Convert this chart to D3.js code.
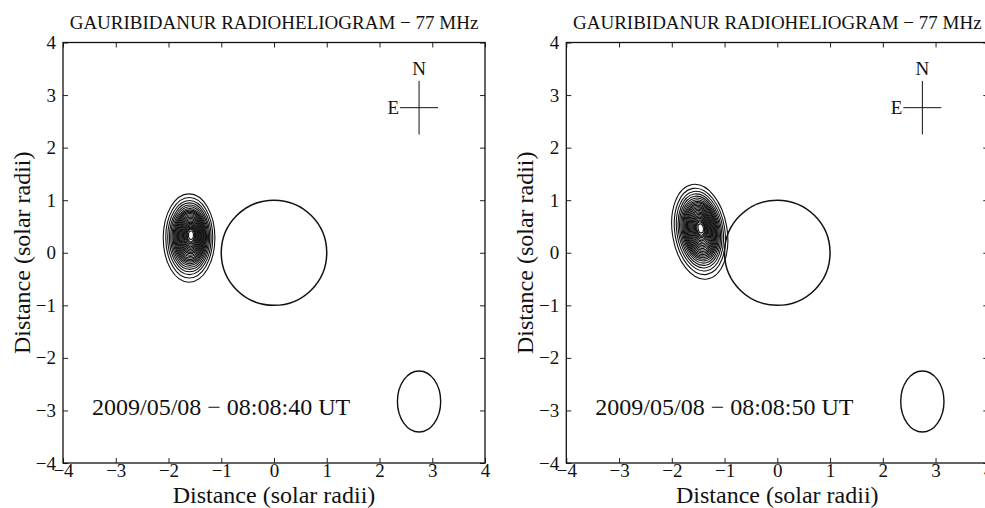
<html>
<head>
<meta charset="utf-8">
<script src="https://d3js.org/d3.v7.min.js"></script>
<style>
  body { margin: 0; background: #fff; }
  text { font-family: "Liberation Serif", "Times New Roman", serif; fill: #111; }
</style>
</head>
<body>
<div id="chart"></div>
<script>
// axis ticks
var xTicks = [-4, -3, -2, -1, 0, 1, 2, 3, 4];
var yTicks = [-4, -3, -2, -1, 0, 1, 2, 3, 4];

// one entry per panel
var panelTitles = ["GAURIBIDANUR RADIOHELIOGRAM \u2212 77 MHz", "GAURIBIDANUR RADIOHELIOGRAM \u2212 77 MHz"];
var panelTimes = ["2009/05/08 \u2212 08:08:40 UT", "2009/05/08 \u2212 08:08:50 UT"];

// burst source (outer contour centre, peak, semi axes, tilt in deg)
var sourceX = [-1.61, -1.47];
var sourceY = [0.28, 0.40];
var peakX = [-1.57, -1.45];
var peakY = [0.34, 0.47];
var sourceA = [0.49, 0.52];
var sourceB = [0.84, 0.91];
var sourceTilt = [0, -9];

// contour sizes relative to the outer contour
var contourLevels = [1, 0.91, 0.84, 0.78, 0.73, 0.685, 0.645, 0.61, 0.58, 0.55, 0.52, 0.49,
                     0.46, 0.43, 0.40, 0.37, 0.34, 0.31, 0.28, 0.25, 0.22, 0.19, 0.165, 0.14, 0.095];

// solar disc and beam
var sunRadius = 1;
var beamX = 2.75, beamY = -2.83, beamA = 0.41, beamB = 0.58;
// compass
var compassX = 2.75, compassY = 2.76, compassN = 0.51, compassE = 0.36;
// time stamp position (data coords)
var timeX = -3.45, timeY = -3.08;

var W = 985, H = 508;
var svg = d3.select("#chart").append("svg")
  .attr("width", W).attr("height", H);

var panelLeft = [63, 566.3];
var plotW = 422, plotTop = 42.5, plotH = 420.5;

for (var p = 0; p < 2; p++) {
  var x = d3.scaleLinear().domain([-4, 4]).range([panelLeft[p], panelLeft[p] + plotW]);
  var y = d3.scaleLinear().domain([-4, 4]).range([plotTop + plotH, plotTop]);
  var g = svg.append("g");

  // axes, ticks pointing inward
  var bx = g.append("g").attr("transform", "translate(0," + (plotTop + plotH) + ")")
    .call(d3.axisBottom(x).tickValues(xTicks).tickSizeInner(-5).tickSizeOuter(0).tickPadding(0));
  var ly = g.append("g").attr("transform", "translate(" + panelLeft[p] + ",0)")
    .call(d3.axisLeft(y).tickValues(yTicks).tickSizeInner(-5).tickSizeOuter(0).tickPadding(7));
  g.append("g").attr("transform", "translate(0," + plotTop + ")")
    .call(d3.axisTop(x).tickValues(xTicks).tickSizeInner(-5).tickSizeOuter(0).tickFormat(""));
  g.append("g").attr("transform", "translate(" + (panelLeft[p] + plotW) + ",0)")
    .call(d3.axisRight(y).tickValues(yTicks).tickSizeInner(-5).tickSizeOuter(0).tickFormat(""));
  g.selectAll(".domain").remove();
  g.selectAll(".tick line").attr("stroke", "#222").attr("stroke-width", 1);
  bx.selectAll("text").attr("font-size", 19).attr("font-family", "Liberation Serif").attr("fill", "#111");
  ly.selectAll("text").attr("font-size", 19).attr("font-family", "Liberation Serif").attr("fill", "#111");

  g.append("rect")
    .attr("x", panelLeft[p]).attr("y", plotTop)
    .attr("width", plotW).attr("height", plotH)
    .attr("fill", "none").attr("stroke", "#111").attr("stroke-width", 1.3);

  // title
  g.append("text")
    .attr("x", x(0)).attr("y", 29)
    .attr("text-anchor", "middle").attr("font-size", 19)
    .text(panelTitles[p]);

  // axis labels
  g.append("text")
    .attr("x", x(0)).attr("y", 503)
    .attr("text-anchor", "middle").attr("font-size", 24)
    .text("Distance (solar radii)");
  g.append("text")
    .attr("transform", "translate(" + (panelLeft[p] - 33) + "," + y(0) + ") rotate(-90)")
    .attr("text-anchor", "middle").attr("font-size", 24)
    .text("Distance (solar radii)");

  var sx = x(1) - x(0), sy = y(0) - y(1);

  // contours of the burst
  var cx0 = x(sourceX[p]), cy0 = y(sourceY[p]);
  var px = x(peakX[p]), py = y(peakY[p]);
  g.append("g").selectAll("ellipse").data(contourLevels).enter().append("ellipse")
    .attr("transform", function(f) {
      var cx = px + f * (cx0 - px), cy = py + f * (cy0 - py);
      return "translate(" + cx + "," + cy + ") rotate(" + sourceTilt[p] + ")";
    })
    .attr("rx", function(f) { return f * sourceA[p] * sx; })
    .attr("ry", function(f) { return f * sourceB[p] * sy; })
    .attr("fill", "none").attr("stroke", "#111").attr("stroke-width", 1.1);

  // solar disc
  g.append("ellipse")
    .attr("cx", x(0)).attr("cy", y(0))
    .attr("rx", sunRadius * sx).attr("ry", sunRadius * sy)
    .attr("fill", "none").attr("stroke", "#111").attr("stroke-width", 1.5);

  // beam
  g.append("ellipse")
    .attr("cx", x(beamX)).attr("cy", y(beamY))
    .attr("rx", beamA * sx).attr("ry", beamB * sy)
    .attr("fill", "none").attr("stroke", "#111").attr("stroke-width", 1.4);

  // compass
  g.append("line")
    .attr("x1", x(compassX)).attr("x2", x(compassX))
    .attr("y1", y(compassY + compassN)).attr("y2", y(compassY - compassN))
    .attr("stroke", "#111").attr("stroke-width", 1);
  g.append("line")
    .attr("x1", x(compassX - compassE)).attr("x2", x(compassX + compassE))
    .attr("y1", y(compassY)).attr("y2", y(compassY))
    .attr("stroke", "#111").attr("stroke-width", 1);
  g.append("text")
    .attr("x", x(compassX)).attr("y", y(compassY + compassN) - 6)
    .attr("text-anchor", "middle").attr("font-size", 19).text("N");
  g.append("text")
    .attr("x", x(compassX - compassE) - 1).attr("y", y(compassY) + 6)
    .attr("text-anchor", "end").attr("font-size", 19).text("E");

  // time stamp
  g.append("text")
    .attr("x", x(timeX)).attr("y", y(timeY))
    .attr("font-size", 24)
    .text(panelTimes[p]);
}
</script>
</body>
</html>
